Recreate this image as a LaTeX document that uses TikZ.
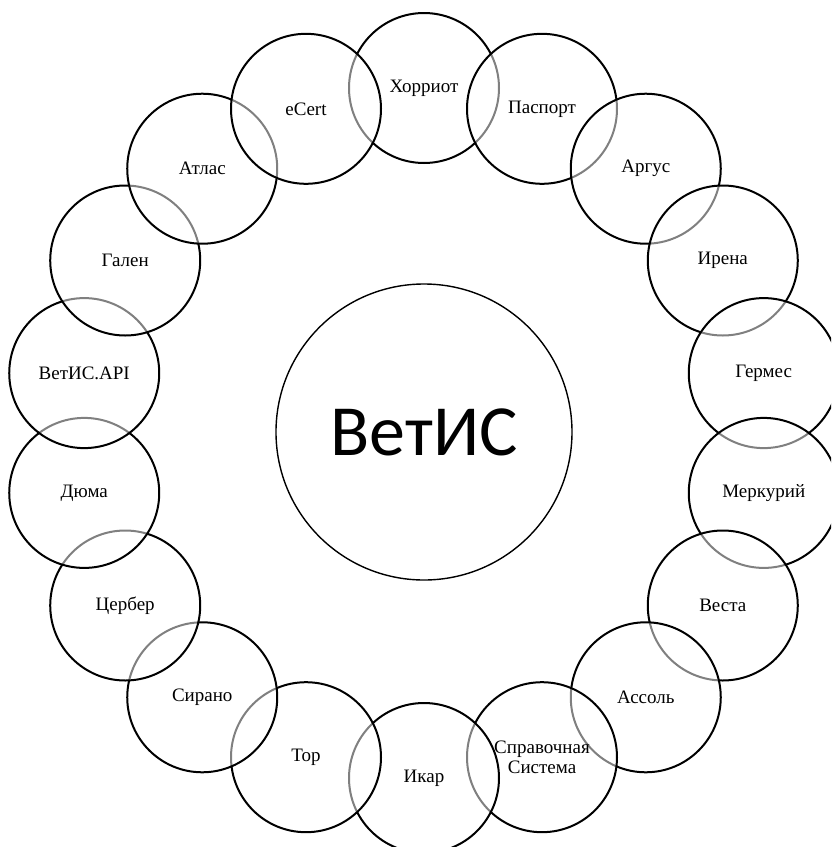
\documentclass[tikz,border=0pt]{standalone}
\usepackage{fontspec}
\usetikzlibrary{calc}
\setmainfont{Liberation Serif}
\newfontfamily\centerfont{Carlito}
\tikzset{
  sysbox/.style={circle, draw=black, line width=2pt, fill=white, fill opacity=0.5,
    draw opacity=1, text opacity=1, minimum size=150pt, inner sep=0pt, align=center,
    font=\fontsize{19}{20}\selectfont},
  corebox/.style={circle, draw=black, line width=1.4pt, minimum size=296pt, inner sep=0pt,
    font=\centerfont\fontsize{72}{80}\selectfont}
}
\begin{document}
\begin{tikzpicture}[x=1pt,y=-1pt]
\useasboundingbox (0,0) rectangle (831,847);
\clip (0,0) rectangle (831,847);
\fill[white] (0,0) rectangle (831,847);
\coordinate (ring) at (424,433);
\node[corebox] (core) at (424,432) {ВетИС};
\foreach \k/\name/\txt in {
  0/horriot/Хорриот,
  1/pasport/Паспорт,
  2/argus/Аргус,
  3/irena/Ирена,
  4/germes/Гермес,
  5/merkuriy/Меркурий,
  6/vesta/Веста,
  7/assol/Ассоль,
  8/sprav/{Справочная\\Система},
  9/ikar/Икар,
  10/tor/Тор,
  11/sirano/Сирано,
  12/cerber/Цербер,
  13/duma/Дюма,
  14/api/ВетИС.API,
  15/galen/Гален,
  16/atlas/Атлас,
  17/ecert/eCert}
{
  \node[sysbox] (\name) at ($(ring)+({20*\k-90}:345)$) {\txt};
}
\end{tikzpicture}
\end{document}
